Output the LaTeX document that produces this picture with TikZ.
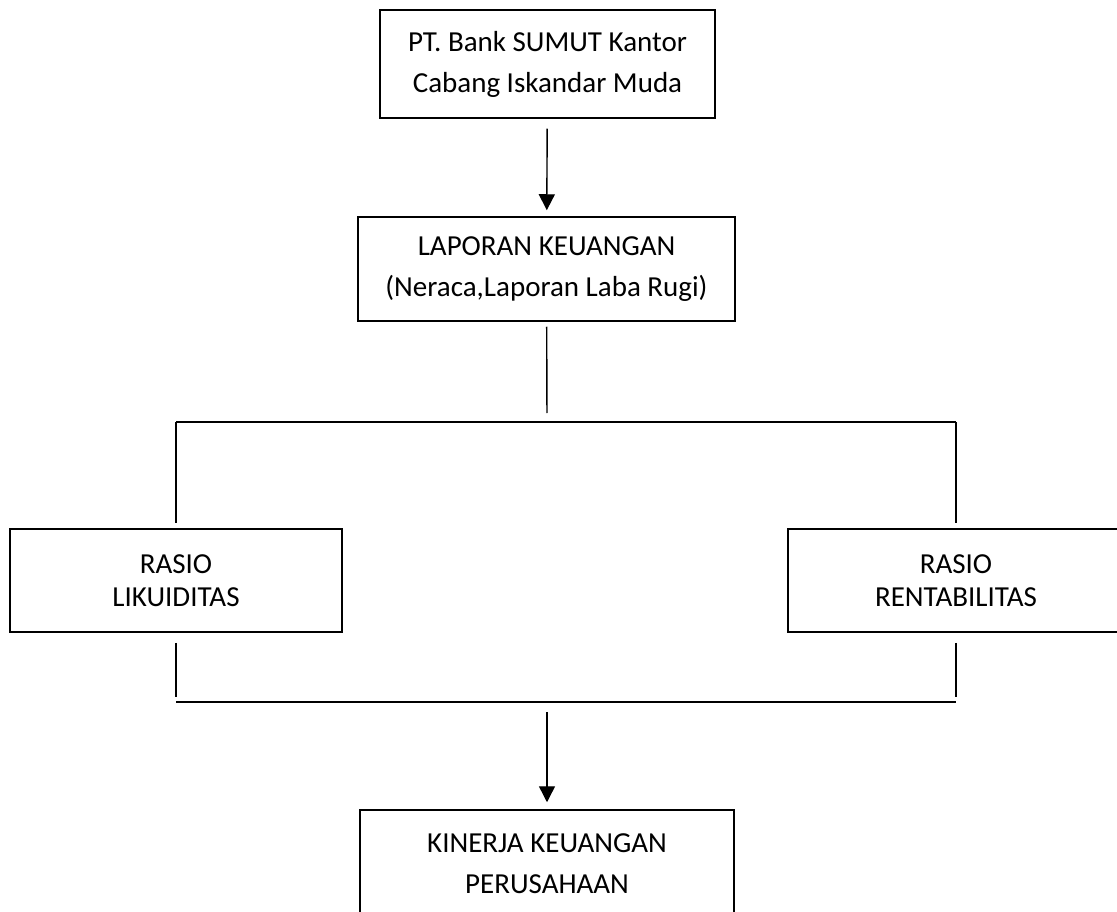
\documentclass[tikz,border=0pt]{standalone}
\usepackage{fontspec}
\setmainfont{Carlito}
\usetikzlibrary{arrows.meta}
\begin{document}
\begin{tikzpicture}[x=1pt,y=-1pt,
  line width=1.4pt,
  box/.style={draw, line width=1.5pt, inner sep=0pt, align=center,
    font=\fontsize{29}{41}\selectfont},
  ratiobox/.style={box, font=\fontsize{29}{33}\selectfont,
    minimum width=332pt, minimum height=103pt},
  arr/.style={-{Triangle[width=16pt,length=16pt]}}]
\useasboundingbox (0,0) rectangle (1117,912);
\clip (0,0) rectangle (1117,912);
\node[box, minimum width=335pt, minimum height=108pt] (bank) at (547.5,64)
  {PT. Bank SUMUT Kantor\\Cabang Iskandar Muda};
\node[box, minimum width=377pt, minimum height=104pt] (lap) at (546.5,269)
  {LAPORAN KEUANGAN\\(Neraca,Laporan Laba Rugi)};
\node[ratiobox] (lik) at (176,580.5) {RASIO\\LIKUIDITAS};
\node[ratiobox, minimum width=336pt] (ren) at (956,580.5) {RASIO\\RENTABILITAS};
\node[box, minimum width=374pt, minimum height=108pt] (kin) at (547,864)
  {KINERJA KEUANGAN\\PERUSAHAAN};
\coordinate (split) at (547,422);
\coordinate (tl) at (176,422);
\coordinate (tr) at (956,422);
\coordinate (bl) at (176,702);
\coordinate (br) at (956,702);
\coordinate (join) at (547,702);
\draw[arr, shorten <=10pt, shorten >=6pt] (bank) -- (lap);
\draw[shorten <=5pt, shorten >=9pt] (lap) -- (split);
\draw[line width=1.6pt] (tl) -- (split);
\draw[line width=1.3pt] (split) -- (tr);
\draw[shorten >=5pt] (tl) -- (lik);
\draw[shorten >=5pt] (tr) -- (ren);
\draw[shorten <=10pt, shorten >=5pt] (lik) -- (bl);
\draw[shorten <=10pt, shorten >=5pt] (ren) -- (br);
\draw (bl) -- (br);
\draw[arr, shorten <=10pt, shorten >=7pt] (join) -- (kin);
\end{tikzpicture}
\end{document}
